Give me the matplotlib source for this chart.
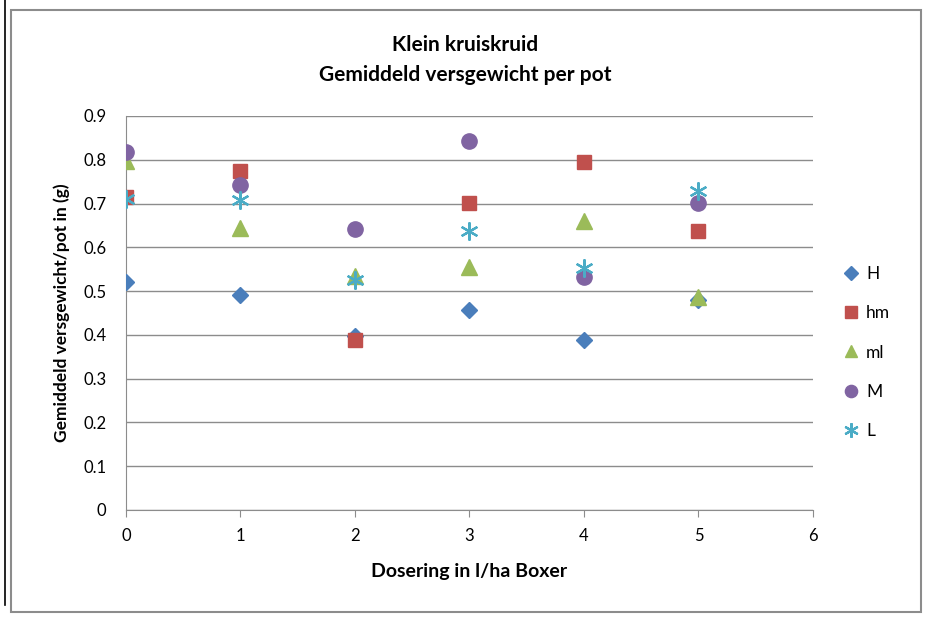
import matplotlib
matplotlib.use("Agg")
import matplotlib.pyplot as plt
from matplotlib.patches import Rectangle
from matplotlib.lines import Line2D

plt.rcParams['font.family'] = ['Lato', 'DejaVu Sans']

doses = [0, 1, 2, 3, 4, 5]
H = [0.521, 0.492, 0.398, 0.457, 0.389, 0.480]
hm = [0.715, 0.774, 0.388, 0.702, 0.795, 0.638]
ml = [0.797, 0.644, 0.534, 0.555, 0.660, 0.486]
M = [0.818, 0.742, 0.643, 0.842, 0.533, 0.702]
L = [0.710, 0.708, 0.525, 0.637, 0.553, 0.728]

series = [
    ("H", H, "D", "#4a7ebb", 8.5),
    ("hm", hm, "s", "#c0504d", 10),
    ("ml", ml, "^", "#9bbb59", 11),
    ("M", M, "o", "#8064a2", 11),
    ("L", L, "x", "#4bacc6", 11),
]

fig = plt.figure(figsize=(9.25, 6.28), dpi=100)
W, Hh = 925, 628
# outer chart border
fig.patches.append(Rectangle((11 / W, 1 - 612 / Hh), 910 / W, 602 / Hh,
                             transform=fig.transFigure, fill=False,
                             edgecolor="#8c8c8c", linewidth=1.5))
fig.lines.append(Line2D([5 / W, 5 / W], [1 - 605 / Hh, 1.0], transform=fig.transFigure,
                        color="black", linewidth=1.2))

ax = fig.add_axes([126 / W, 1 - 510 / Hh, (813 - 126) / W, (510 - 116) / Hh])

for name, vals, mk, col, ms in series:
    if mk == "x":
        ax.plot(doses, vals, linestyle="none", marker=(6, 2, 0), markersize=ms + 2,
                markeredgecolor=col, markeredgewidth=1.6, label=name, zorder=3)
    else:
        ax.plot(doses, vals, linestyle="none", marker=mk, markersize=ms,
                color=col, markeredgecolor=col, label=name, zorder=3)

ax.set_xlim(0, 6)
ax.set_ylim(0, 0.9)
ax.set_xticks(range(7))
ax.set_yticks([i / 10 for i in range(10)])
ax.set_yticklabels(["0"] + [f"{i/10:.1f}" for i in range(1, 10)])
ax.yaxis.grid(True, color="#8c8c8c", linewidth=1)
ax.set_axisbelow(True)
for s in ["top", "right"]:
    ax.spines[s].set_visible(False)
for s in ["left", "bottom"]:
    ax.spines[s].set_color("#8c8c8c")
ax.tick_params(axis="x", direction="out", length=5, color="#8c8c8c", labelsize=12, pad=8)
ax.tick_params(axis="y", direction="out", length=0, labelsize=12, pad=14)

ax.set_xlabel("Dosering in l/ha Boxer", fontsize=14, fontweight="bold", labelpad=14)
ax.set_ylabel("Gemiddeld versgewicht/pot in (g)", fontsize=12.5, fontweight="bold", labelpad=10)

fig.text((126 + 813) / 2 / W - 0.005, 1 - 45 / Hh, "Klein kruiskruid", ha="center", va="center",
         fontsize=15, fontweight="bold")
fig.text((126 + 813) / 2 / W - 0.005, 1 - 75 / Hh, "Gemiddeld versgewicht per pot", ha="center",
         va="center", fontsize=15, fontweight="bold")

leg = ax.legend(loc="upper left", bbox_to_anchor=(828 / W, 1 - 250 / Hh),
                bbox_transform=fig.transFigure, frameon=False, fontsize=12.5,
                handlelength=0.8, handletextpad=0.5, labelspacing=1.35, markerscale=0.8)

fig.savefig("out.png", dpi=100)
